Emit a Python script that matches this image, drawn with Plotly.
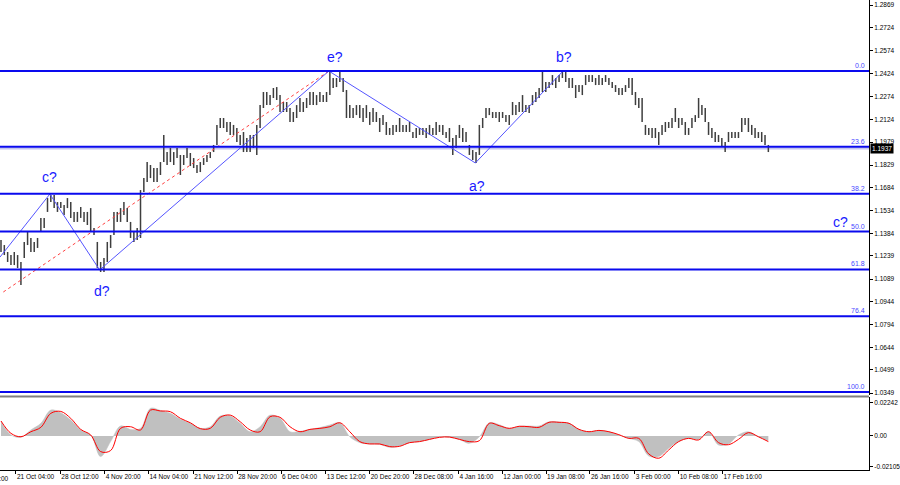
import plotly.graph_objects as go

# ---------------- data ----------------
bar_high = [
    1.1343, 1.1310, 1.1265, 1.1245, 1.1265, 1.1245, 1.1200, 1.1330, 1.1395, 1.1356,
    1.1330, 1.1356, 1.1486, 1.1486, 1.1615, 1.1635, 1.1635, 1.1589, 1.1589, 1.1570,
    1.1615, 1.1589, 1.1525, 1.1525, 1.1557, 1.1525, 1.1525, 1.1550, 1.1421, 1.1330,
    1.1200, 1.1226, 1.1330, 1.1375, 1.1525, 1.1525, 1.1550, 1.1589, 1.1550, 1.1460,
    1.1395, 1.1421, 1.1667, 1.1745, 1.1849, 1.1830, 1.1810, 1.1810, 1.1849, 1.2025,
    1.1914, 1.1940, 1.1914, 1.1940, 1.1895, 1.1895, 1.1940, 1.1908, 1.1875, 1.1830,
    1.1849, 1.1875, 1.1895, 1.1914, 1.1960, 1.2090, 1.2135, 1.2135, 1.2109, 1.2109,
    1.2090, 1.2070, 1.2025, 1.2044, 1.2005, 1.2025, 1.2025, 1.2090, 1.2219, 1.2304,
    1.2304, 1.2284, 1.2330, 1.2336, 1.2284, 1.2239, 1.2239, 1.2200, 1.2174, 1.2219,
    1.2265, 1.2239, 1.2265, 1.2304, 1.2304, 1.2284, 1.2304, 1.2284, 1.2304, 1.2440,
    1.2395, 1.2395, 1.2434, 1.2395, 1.2317, 1.2219, 1.2200, 1.2219, 1.2219, 1.2200,
    1.2219, 1.2174, 1.2200, 1.2174, 1.2135, 1.2154, 1.2109, 1.2070, 1.2090, 1.2090,
    1.2135, 1.2090, 1.2090, 1.2109, 1.2044, 1.2070, 1.2070, 1.2070, 1.2070, 1.2090,
    1.2070, 1.2109, 1.2090, 1.2090, 1.2044, 1.2070, 1.2005, 1.2025, 1.2090, 1.2070,
    1.2044, 1.1960, 1.1927, 1.1914, 1.2090, 1.2135, 1.2200, 1.2200, 1.2174, 1.2174,
    1.2174, 1.2174, 1.2154, 1.2154, 1.2239, 1.2219, 1.2239, 1.2284, 1.2219, 1.2219,
    1.2284, 1.2304, 1.2330, 1.2434, 1.2369, 1.2369, 1.2414, 1.2395, 1.2414, 1.2447,
    1.2434, 1.2395, 1.2395, 1.2349, 1.2349, 1.2349, 1.2414, 1.2414, 1.2414, 1.2395,
    1.2414, 1.2395, 1.2414, 1.2395, 1.2369, 1.2349, 1.2330, 1.2330, 1.2349, 1.2395,
    1.2395, 1.2304, 1.2265, 1.2265, 1.2090, 1.2070, 1.2070, 1.2070, 1.2044, 1.2090,
    1.2109, 1.2109, 1.2135, 1.2200, 1.2135, 1.2135, 1.2109, 1.2070, 1.2135, 1.2154,
    1.2265, 1.2219, 1.2200, 1.2109, 1.2070, 1.2044, 1.2025, 1.2005, 1.1979, 1.2044,
    1.2044, 1.2044, 1.2044, 1.2135, 1.2135, 1.2135, 1.2090, 1.2070, 1.2044, 1.2044,
    1.2025, 1.1960,
]
bar_low = [
    1.1265, 1.1245, 1.1200, 1.1180, 1.1180, 1.1161, 1.1050, 1.1226, 1.1310, 1.1265,
    1.1265, 1.1291, 1.1395, 1.1421, 1.1525, 1.1589, 1.1550, 1.1525, 1.1550, 1.1505,
    1.1550, 1.1486, 1.1460, 1.1460, 1.1486, 1.1460, 1.1440, 1.1395, 1.1375, 1.1161,
    1.1135, 1.1135, 1.1200, 1.1291, 1.1375, 1.1460, 1.1460, 1.1505, 1.1460, 1.1356,
    1.1330, 1.1343, 1.1356, 1.1654, 1.1719, 1.1745, 1.1719, 1.1719, 1.1765, 1.1849,
    1.1830, 1.1849, 1.1830, 1.1875, 1.1765, 1.1830, 1.1875, 1.1823, 1.1810, 1.1778,
    1.1784, 1.1830, 1.1849, 1.1875, 1.1914, 1.1960, 1.2070, 1.2070, 1.2044, 1.2025,
    1.2025, 1.1979, 1.1960, 1.1914, 1.1914, 1.1914, 1.1940, 1.1895, 1.2070, 1.2200,
    1.2219, 1.2219, 1.2265, 1.2252, 1.2174, 1.2174, 1.2174, 1.2109, 1.2109, 1.2135,
    1.2174, 1.2174, 1.2200, 1.2219, 1.2219, 1.2219, 1.2239, 1.2239, 1.2239, 1.2284,
    1.2330, 1.2336, 1.2369, 1.2304, 1.2135, 1.2135, 1.2135, 1.2154, 1.2135, 1.2109,
    1.2135, 1.2090, 1.2109, 1.2109, 1.2044, 1.2090, 1.2025, 1.2025, 1.2025, 1.2044,
    1.2044, 1.2044, 1.2044, 1.2044, 1.2005, 1.2005, 1.2025, 1.2025, 1.2005, 1.2025,
    1.2025, 1.2025, 1.2044, 1.2025, 1.2005, 1.1979, 1.1895, 1.1940, 1.2005, 1.1979,
    1.1979, 1.1895, 1.1862, 1.1843, 1.1895, 1.2070, 1.2135, 1.2154, 1.2135, 1.2135,
    1.2109, 1.2135, 1.2109, 1.2090, 1.2154, 1.2154, 1.2174, 1.2174, 1.2174, 1.2167,
    1.2219, 1.2239, 1.2265, 1.2304, 1.2304, 1.2330, 1.2349, 1.2330, 1.2369, 1.2395,
    1.2369, 1.2330, 1.2330, 1.2265, 1.2304, 1.2284, 1.2349, 1.2369, 1.2369, 1.2349,
    1.2349, 1.2349, 1.2369, 1.2349, 1.2330, 1.2304, 1.2284, 1.2284, 1.2304, 1.2330,
    1.2284, 1.2219, 1.2200, 1.2109, 1.2025, 1.2025, 1.2005, 1.2005, 1.1960, 1.2025,
    1.2044, 1.2070, 1.2070, 1.2109, 1.2070, 1.2090, 1.2025, 1.2025, 1.2070, 1.2109,
    1.2135, 1.2154, 1.2109, 1.2025, 1.2005, 1.1979, 1.1979, 1.1947, 1.1914, 1.1979,
    1.2005, 1.2005, 1.2005, 1.2044, 1.2090, 1.2044, 1.2025, 1.2005, 1.2005, 1.1979,
    1.1960, 1.1914,
]

# oscillator (histogram + signal), one reading every 3 bars
osc_bar = list(range(0, 232, 3))
osc_hist = [
    9.7, 0.7, -0.9, 4.1, 8.6, 17.6, 15.8, 10.8, 4.1, 0.7,
    -14.0, -3.8, 6.8, 4.5, 5.2, 18.8, 17.4, 15.4, 11.3, 8.6,
    5.2, 6.3, 13.6, 13.6, 8.6, 2.9, 6.3, 14.2, 12.0, 2.9,
    3.2, 4.5, 5.7, 7.5, 9.0, -0.5, -4.5, -5.4, -5.7, -7.7,
    -6.8, -4.5, -3.8, -2.3, -0.7, -0.9, -2.3, -5.0, -0.5, 9.0,
    7.7, 5.2, 6.6, 6.8, 6.8, 9.7, 9.5, 8.6, 4.5, 2.9,
    3.8, 2.9, 0.7, -1.6, -3.8, -13.6, -14.0, -8.4, -3.8, -1.6,
    -2.3, 2.9, -6.1, -5.4, 0.7, 2.9, -0.5, -3.2,
]
osc_signal = [
    10.2, 1.8, -0.5, 2.9, 5.9, 15.4, 16.7, 12.0, 4.5, 0.7,
    -10.6, -9.9, 5.2, 6.3, 4.1, 17.6, 17.0, 16.5, 12.0, 9.0,
    5.0, 5.2, 12.7, 14.2, 9.7, 4.1, 2.9, 13.1, 12.7, 6.3,
    2.9, 4.5, 5.2, 6.3, 9.0, 2.9, -3.8, -5.4, -5.4, -7.2,
    -7.0, -4.5, -3.8, -2.3, -0.9, -0.7, -2.3, -3.8, -3.2, 8.6,
    7.0, 5.2, 6.6, 6.3, 5.9, 9.3, 9.3, 8.6, 4.5, 2.9,
    3.8, 2.9, 0.9, -1.6, -1.6, -12.2, -15.1, -9.5, -3.8, -1.6,
    -2.7, 2.9, -4.5, -5.9, -2.3, 2.3, -0.5, -3.8,
]
osc_scale = 0.001  # readings above are in thousandths

# Fibonacci retracement
fib_high = 1.2440
fib_low = 1.0355
fib_pct = [0.0, 23.6, 38.2, 50.0, 61.8, 76.4, 100.0]
fib_text = ["0.0", "23.6", "38.2", "50.0", "61.8", "76.4", "100.0"]

# wave count lines
wave_bar = [-0.3, 14.7, 29.7, 98.7, 142.8, 169.2]
wave_price = [1.1232, 1.1641, 1.1148, 1.2440, 1.1843, 1.2440]
trend_bar = [0.7, 98.7]
trend_price = [1.1005, 1.2440]
wave_labels = ["c?", "d?", "e?", "a?", "b?", "c?"]
wave_label_bar = [14.7, 30.3, 100.5, 143.4, 169.5, 252.6]
wave_label_price = [1.1752, 1.1011, 1.2531, 1.1693, 1.2531, 1.1460]

bid_price = 1.1937

price_ticks = [1.2869, 1.2724, 1.2574, 1.2424, 1.2274, 1.2124, 1.1979, 1.1829, 1.1684,
               1.1534, 1.1384, 1.1239, 1.1089, 1.0944, 1.0794, 1.0644, 1.0499, 1.0349]
osc_ticks = [0.02242, 0.0, -0.02105]
osc_tick_text = ["0.02242", "0.00", "-0.02105"]

time_bar = [4.5, 17.85, 31.2, 44.4, 57.9, 71.1, 84.3, 97.8, 111.0, 124.2,
            137.7, 150.9, 164.1, 177.3, 190.8, 204.0, 217.2]
time_text = ["21 Oct 04:00", "28 Oct 12:00", "4 Nov 20:00", "14 Nov 04:00", "21 Nov 12:00",
             "28 Nov 20:00", "6 Dec 04:00", "13 Dec 12:00", "20 Dec 20:00", "28 Dec 08:00",
             "4 Jan 16:00", "12 Jan 00:00", "19 Jan 08:00", "26 Jan 16:00", "3 Feb 00:00",
             "10 Feb 08:00", "17 Feb 16:00"]
first_time_text = "13 Oct 20:00"

# ---------------- figure ----------------
FONT = "Liberation Sans"
BLUE = "#0a0aee"

fig = go.Figure()

# price bars (high-low)
xs, ys = [], []
for i, (h, l) in enumerate(zip(bar_high, bar_low)):
    xs += [i, i, None]
    ys += [l, h, None]
fig.add_trace(go.Scatter(x=xs, y=ys, mode="lines", line=dict(color="#3e3e3e", width=1.5),
                         xaxis="x", yaxis="y", hoverinfo="skip", showlegend=False))

# trend dotted line
fig.add_trace(go.Scatter(x=trend_bar, y=trend_price, mode="lines",
                         line=dict(color="#ff4040", width=1, dash="dot"),
                         xaxis="x", yaxis="y", hoverinfo="skip", showlegend=False))
# wave lines
fig.add_trace(go.Scatter(x=wave_bar, y=wave_price, mode="lines",
                         line=dict(color="#5555ff", width=1),
                         xaxis="x", yaxis="y", hoverinfo="skip", showlegend=False))

# oscillator
hist_vals = [v * osc_scale for v in osc_hist]
sig_vals = [v * osc_scale for v in osc_signal]
fig.add_trace(go.Scatter(x=osc_bar, y=hist_vals, mode="lines", fill="tozeroy",
                         fillcolor="#c0c0c0", line=dict(color="#c0c0c0", width=0.5, shape="spline"),
                         xaxis="x2", yaxis="y2", hoverinfo="skip", showlegend=False))
fig.add_trace(go.Scatter(x=osc_bar, y=sig_vals, mode="lines",
                         line=dict(color="#ff0000", width=1, shape="spline"),
                         xaxis="x2", yaxis="y2", hoverinfo="skip", showlegend=False))

shapes = []
# bid line
shapes.append(dict(type="line", xref="x domain", x0=0, x1=1, yref="y", y0=bid_price, y1=bid_price,
                   line=dict(color="#c4c4ee", width=2), layer="below"))
annotations = []
for pct, txt in zip(fib_pct, fib_text):
    lvl = fib_high - pct / 100.0 * (fib_high - fib_low)
    shapes.append(dict(type="line", xref="x domain", x0=0, x1=1, yref="y", y0=lvl, y1=lvl,
                       line=dict(color=BLUE, width=2)))
    annotations.append(dict(xref="paper", x=0.9977, xanchor="right", yref="y", y=lvl,
                            yanchor="bottom", yshift=0, text=txt, showarrow=False,
                            font=dict(family=FONT, size=7, color="#4a4aff")))

# pane separator
shapes.append(dict(type="line", xref="paper", x0=0, x1=1, yref="paper", y0=0.1564, y1=0.1564,
                   line=dict(color="#808080", width=2)))

for t, bx, py in zip(wave_labels, wave_label_bar, wave_label_price):
    annotations.append(dict(xref="x", x=bx, yref="y", y=py, text=t, showarrow=False,
                            font=dict(family=FONT, size=14, color="#1a1aff")))

# current price box
annotations.append(dict(xref="paper", x=1, xanchor="left", xshift=1, yref="y", y=bid_price,
                        text=f"{bid_price:.4f}", showarrow=False, bgcolor="#000000",
                        borderpad=1, font=dict(family=FONT, size=6.5, color="#ffffff")))
# partially visible first time label (cut at the left edge as in the original)
annotations.append(dict(xref="paper", x=0, xanchor="right", xshift=11, yref="paper", y=0,
                        yanchor="top", yshift=-3, text=first_time_text, showarrow=False,
                        font=dict(family=FONT, size=6.5, color="#000000")))

x_range = [-0.3, 261.3]
fig.update_layout(
    width=900, height=485,
    margin=dict(l=0, r=28, t=0, b=15),
    paper_bgcolor="white", plot_bgcolor="white",
    showlegend=False, hovermode=False,
    xaxis=dict(domain=[0, 1], range=x_range, anchor="y", showticklabels=False, ticks="",
               showgrid=False, zeroline=False, showline=False),
    xaxis2=dict(domain=[0, 1], range=x_range, anchor="y2", matches="x",
                tickvals=time_bar, ticktext=time_text, ticks="outside", ticklen=3,
                tickcolor="#000000", ticklabelposition="outside right", tickangle=0,
                tickfont=dict(family=FONT, size=6.5, color="#000000"),
                showgrid=False, zeroline=False, showline=True, linecolor="#000000", linewidth=1),
    yaxis=dict(domain=[0.15957, 1], range=[1.0336, 1.29015], side="right", anchor="x",
               tickvals=price_ticks, ticktext=[f"{v:.4f}" for v in price_ticks],
               ticks="outside", ticklen=3, tickcolor="#000000",
               tickfont=dict(family=FONT, size=6.5, color="#000000"),
               showgrid=False, zeroline=False, showline=True, linecolor="#000000", linewidth=1),
    yaxis2=dict(domain=[0, 0.15532], range=[-0.0231, 0.0265], side="right", anchor="x2",
                tickvals=osc_ticks, ticktext=osc_tick_text,
                ticks="outside", ticklen=3, tickcolor="#000000",
                tickfont=dict(family=FONT, size=6.5, color="#000000"),
                showgrid=False, zeroline=False, showline=True, linecolor="#000000", linewidth=1),
    shapes=shapes,
    annotations=annotations,
)

fig.write_html(
    "out.html",
    config={"displayModeBar": False},
    post_script="document.body.style.margin='0';document.body.style.overflow='hidden';",
)
